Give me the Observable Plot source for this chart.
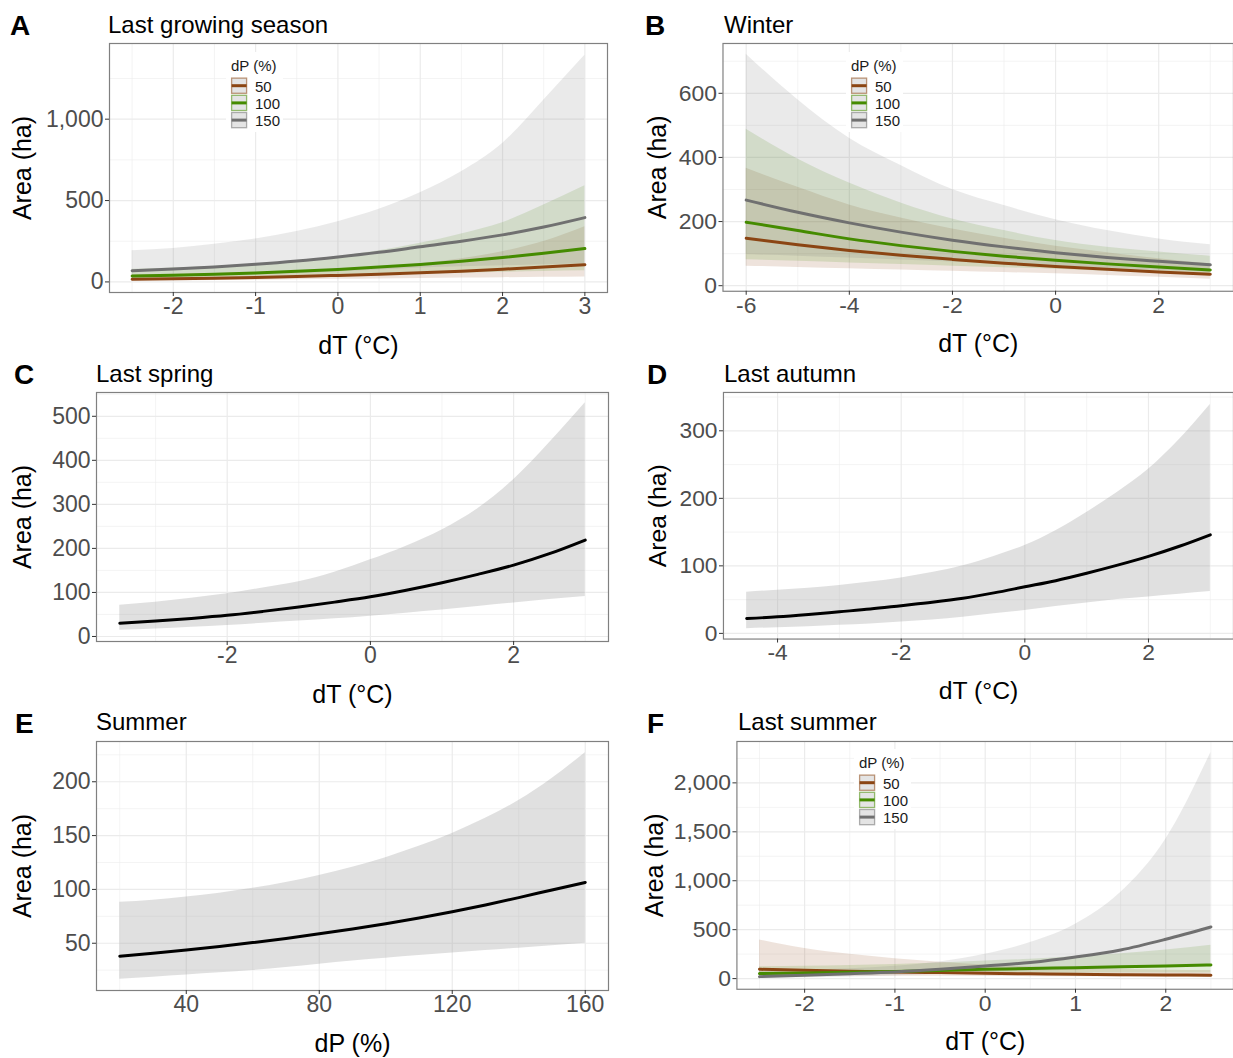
<!DOCTYPE html>
<html><head><meta charset="utf-8">
<script src="https://cdn.jsdelivr.net/npm/d3@7"></script>
<script src="https://cdn.jsdelivr.net/npm/@observablehq/plot@0.6"></script>
<style>
html,body{margin:0;padding:0;background:#fff;overflow:hidden;}
#root{position:relative;width:1233px;height:1058px;overflow:hidden;background:#fff;font-family:"Liberation Sans",Arial,Helvetica,sans-serif;}
.panel{position:absolute;}
#overlay{position:absolute;left:0;top:0;pointer-events:none;}
</style></head><body><div id="root"></div>
<script>
// ---------- legend / categories ----------
const dPLevels = ["50", "100", "150"];
const dPColors = ["#8B4513", "#458B00", "#707070"];
const legendTitle = "dP (%)";

// ---------- Panel A: Last growing season ----------
const dTA = [-2.5, -2, -1.5, -1, -0.5, 0, 0.5, 1, 1.5, 2, 2.5, 3];
const fitA50  = [16.5, 19.5, 23, 27.5, 33, 40, 47.5, 56, 66, 78, 91, 106];
const loA50   = [6, 7.5, 9, 11, 13.5, 16, 18.5, 21, 23.5, 26, 28, 30];
const hiA50   = [43, 47, 52, 58, 65, 74, 89, 112, 142, 186, 248, 339];
const fitA100 = [36, 41, 47, 55, 65, 77, 91, 107, 127, 150, 176, 205];
const loA100  = [17, 20, 23, 28, 32, 38, 43, 48, 54, 59, 64, 68];
const hiA100  = [78, 86, 97, 110, 130, 155, 192, 237, 295, 364, 472, 591];
const fitA150 = [69, 79, 92, 108, 128, 153, 182, 216, 250, 289, 337, 395];
const loA150  = [25, 30, 37, 44, 52, 63, 74, 86, 93, 99, 106, 112];
const hiA150  = [192, 206, 232, 264, 310, 370, 446, 548, 677, 851, 1117, 1393];

// ---------- Panel B: Winter ----------
const dTB = [-6, -5, -4, -3, -2, -1, 0, 1, 2, 3];
const fitB50  = [148, 128, 110, 95, 82, 70, 60, 51, 43, 36];
const loB50   = [61, 57, 53, 49, 45, 41, 37, 32, 26, 20];
const hiB50   = [366, 307, 252, 211, 177, 148, 123, 103, 84, 68];
const fitB100 = [198, 172, 146, 125, 107, 92, 79, 68, 58, 49];
const loB100  = [81, 76, 71, 66, 61, 56, 51, 45, 38, 31];
const hiB100  = [488, 395, 320, 258, 208, 172, 141, 120, 105, 92];
const fitB150 = [267, 229, 196, 167, 142, 121, 103, 88, 76, 65];
const loB150  = [97, 92, 86, 80, 74, 68, 62, 55, 48, 42];
const hiB150  = [722, 580, 460, 375, 300, 250, 206, 172, 146, 128];

// ---------- Panel C: Last spring ----------
const dTC = [-3.5, -3, -2.5, -2, -1.5, -1, -0.5, 0, 0.5, 1, 1.5, 2, 2.5, 3];
const fitC = [30, 35, 41, 48, 57, 67, 78, 90, 105, 122, 141, 162, 188, 219];
const loC  = [14, 17, 21, 25, 30, 35, 40, 46, 53, 60, 68, 76, 84, 91];
const hiC  = [71, 78, 87, 97, 110, 124, 146, 174, 205, 242, 290, 356, 440, 531];

// ---------- Panel D: Last autumn ----------
const dTD = [-4.5, -4, -3.5, -3, -2.5, -2, -1.5, -1, -0.5, 0, 0.5, 1, 1.5, 2, 2.5, 3];
const fitD = [22, 24.5, 28, 32, 36, 41, 46, 52, 60, 69, 78, 89, 101, 114, 129, 146];
const loD  = [7, 8.5, 10, 12, 14, 17, 20, 24, 29, 34, 40, 45, 50, 54, 58, 62];
const hiD  = [61, 64, 67, 71, 76, 82, 90, 100, 114, 130, 152, 179, 209, 243, 287, 339];

// ---------- Panel E: Summer ----------
const dPE = [20, 30, 40, 50, 60, 70, 80, 90, 100, 110, 120, 130, 140, 150, 160];
const fitE = [38, 40.8, 43.8, 47, 50.6, 54.5, 58.8, 63.3, 68.2, 73.5, 79.3, 85.6, 92.4, 99.5, 106.5];
const loE  = [16.5, 18.5, 20.5, 22.5, 24.7, 27.4, 30.5, 33.4, 36, 38.5, 41, 43.2, 45.4, 47.6, 50];
const hiE  = [88, 90, 93, 96.5, 101, 106.5, 113, 120.5, 129.5, 140, 152, 166, 182.5, 203, 227];

// ---------- Panel F: Last summer ----------
const dTF = [-2.5, -2, -1.5, -1, -0.5, 0, 0.5, 1, 1.5, 2, 2.5];
const fitF50  = [95, 85, 76, 68, 61, 54, 49, 44, 40, 37, 34];
const loF50   = [23, 24, 25, 25, 24, 22, 20, 18, 16, 14, 12];
const hiF50   = [395, 307, 248, 204, 168, 140, 118, 102, 92, 86, 82];
const fitF100 = [51, 58, 65, 72, 83, 95, 103, 112, 120, 129, 139];
const loF100  = [22, 28, 35, 42, 47, 50, 53, 55, 56, 57, 57];
const hiF100  = [120, 125, 135, 145, 160, 180, 197, 225, 255, 293, 340];
const fitF150 = [20, 34, 50, 68, 95, 129, 165, 221, 293, 402, 528];
const loF150  = [4, 9, 17, 30, 48, 67, 75, 88, 98, 113, 120];
const hiF150  = [75, 85, 100, 125, 170, 248, 368, 555, 879, 1424, 2311];

// ---------- tick values ----------
const ticksA = {xMajor: [-2, -1, 0, 1, 2, 3], xMinor: [-2.5, -1.5, -0.5, 0.5, 1.5, 2.5], yMajor: [0, 500, 1000], yMinor: [250, 750, 1250]};
const ticksB = {xMajor: [-6, -4, -2, 0, 2], xMinor: [-5, -3, -1, 1, 3], yMajor: [0, 200, 400, 600], yMinor: [100, 300, 500, 700]};
const ticksC = {xMajor: [-2, 0, 2], xMinor: [-3, -1, 1, 3], yMajor: [0, 100, 200, 300, 400, 500], yMinor: [50, 150, 250, 350, 450, 550]};
const ticksD = {xMajor: [-4, -2, 0, 2], xMinor: [-3, -1, 1, 3], yMajor: [0, 100, 200, 300], yMinor: [50, 150, 250, 350]};
const ticksE = {xMajor: [40, 80, 120, 160], xMinor: [20, 60, 100, 140], yMajor: [50, 100, 150, 200], yMinor: [25, 75, 125, 175, 225]};
const ticksF = {xMajor: [-2, -1, 0, 1, 2], xMinor: [-2.5, -1.5, -0.5, 0.5, 1.5, 2.5], yMajor: [0, 500, 1000, 1500, 2000], yMinor: [250, 750, 1250, 1750, 2250]};

const labelDT = "dT (°C)";
const labelDP = "dP (%)";
const labelArea = "Area (ha)";

// ---------- build ----------
const FONT = '"Liberation Sans", Arial, Helvetica, sans-serif';
const root = document.getElementById("root");
const commaFmt = d => d.toLocaleString("en-US");
const plainFmt = d => String(d);

function rowsOf(key, xs, fit, lo, hi) {
  return xs.map((x, i) => ({x, fit: fit[i], lo: lo[i], hi: hi[i], dP: key}));
}

function makePanel(spec) {
  const multi = spec.multi;
  const rows = spec.series.flat();
  const gridMinor = {stroke: "#ececec", strokeOpacity: 1, strokeWidth: 0.6};
  const gridMajor = {stroke: "#ebebeb", strokeOpacity: 1, strokeWidth: 1.2};
  const marks = [
    Plot.gridX(spec.ticks.xMinor, gridMinor),
    Plot.gridY(spec.ticks.yMinor, gridMinor),
    Plot.gridX(spec.ticks.xMajor, gridMajor),
    Plot.gridY(spec.ticks.yMajor, gridMajor),
    Plot.areaY(rows, {x: "x", y1: "lo", y2: "hi", z: "dP",
      fill: multi ? "dP" : "#999999", fillOpacity: multi ? 0.15 : 0.3, curve: "monotone-x"}),
    Plot.line(rows, {x: "x", y: "fit", z: "dP", stroke: multi ? "dP" : "#000000",
      strokeWidth: 3, curve: "monotone-x"}),
    Plot.frame({stroke: "#808080", strokeWidth: 1.2}),
    Plot.axisX(spec.ticks.xMajor, {tickSize: 4, tickPadding: 1, fontSize: 23, label: null,
      tickFormat: plainFmt, stroke: "#333333", fill: "#4d4d4d"}),
    Plot.axisY(spec.ticks.yMajor, {tickSize: 4, tickPadding: 2, fontSize: 23, label: null,
      tickFormat: spec.comma ? commaFmt : plainFmt, stroke: "#333333", fill: "#4d4d4d"}),
    Plot.text([spec.xLabel], {text: d => d, frameAnchor: "bottom", dy: 53, lineAnchor: "middle",
      textAnchor: "middle", fontSize: 25, fill: "#000"}),
    Plot.text([spec.yLabel], {text: d => d, frameAnchor: "left", dx: spec.yLabDx, rotate: -90,
      textAnchor: "middle", lineAnchor: "middle", fontSize: 25, fill: "#000"})
  ];
  const svg = Plot.plot({
    width: spec.w, height: spec.h,
    marginLeft: spec.m[0], marginRight: spec.m[1], marginTop: spec.m[2], marginBottom: spec.m[3],
    x: {domain: spec.xDomain},
    y: {domain: spec.yDomain},
    color: {domain: dPLevels, range: dPColors},
    style: {fontFamily: FONT, background: "transparent", overflow: "visible"},
    marks
  });
  const div = document.createElement("div");
  div.className = "panel";
  div.style.left = spec.left + "px";
  div.style.top = spec.top + "px";
  div.appendChild(svg);
  root.appendChild(div);
}

const panels = [
  {left: 0, top: 40, w: 616, h: 320, m: [109, 9, 3, 68], xDomain: [-2.775, 3.275], yDomain: [-65, 1465],
   ticks: ticksA, multi: true, comma: true, xLabel: labelDT, yLabel: labelArea, yLabDx: -87,
   series: [rowsOf("50", dTA, fitA50, loA50, hiA50), rowsOf("100", dTA, fitA100, loA100, hiA100), rowsOf("150", dTA, fitA150, loA150, hiA150)]},
  {left: 616, top: 40, w: 620, h: 320, m: [107, 0, 3, 68], xDomain: [-6.45, 3.45], yDomain: [-17.4, 755.4],
   ticks: ticksB, multi: true, comma: false, xLabel: labelDT, yLabel: labelArea, yLabDx: -65,
   series: [rowsOf("50", dTB, fitB50, loB50, hiB50), rowsOf("100", dTB, fitB100, loB100, hiB100), rowsOf("150", dTB, fitB150, loB150, hiB150)]},
  {left: 0, top: 388, w: 616, h: 322, m: [96, 8, 4, 69], xDomain: [-3.825, 3.325], yDomain: [-11.4, 554],
   ticks: ticksC, multi: false, comma: false, xLabel: labelDT, yLabel: labelArea, yLabDx: -74,
   series: [rowsOf("fit", dTC, fitC, loC, hiC)]},
  {left: 616, top: 388, w: 623, h: 322, m: [108, 0, 4, 69], xDomain: [-4.875, 3.375], yDomain: [-8.4, 356.8],
   ticks: ticksD, multi: false, comma: false, xLabel: labelDT, yLabel: labelArea, yLabDx: -66,
   series: [rowsOf("fit", dTD, fitD, loD, hiD)]},
  {left: 0, top: 737, w: 616, h: 321, m: [96, 8, 4, 68], xDomain: [13, 167], yDomain: [6.1, 237.4],
   ticks: ticksE, multi: false, comma: false, xLabel: labelDP, yLabel: labelArea, yLabDx: -74,
   series: [rowsOf("fit", dPE, fitE, loE, hiE)]},
  {left: 616, top: 737, w: 620, h: 321, m: [121, 0, 4, 68], xDomain: [-2.75, 2.75], yDomain: [-109, 2423],
   ticks: ticksF, multi: true, comma: true, xLabel: labelDT, yLabel: labelArea, yLabDx: -82,
   series: [rowsOf("50", dTF, fitF50, loF50, hiF50), rowsOf("100", dTF, fitF100, loF100, hiF100), rowsOf("150", dTF, fitF150, loF150, hiF150)]}
];
panels.forEach(makePanel);

// ---------- overlay: panel letters, titles, legends ----------
const letters = ["A", "B", "C", "D", "E", "F"];
const titles = ["Last growing season", "Winter", "Last spring", "Last autumn", "Summer", "Last summer"];
const letterPos = [[10, 35], [645, 35], [14, 384], [647, 384], [15, 733], [647, 733]];
const titlePos = [[108, 33], [724, 33], [96, 382], [724, 382], [96, 730], [738, 730]];
const legendPos = [[231, 65], [851, 65], [859, 762]];

const ov = d3.select(root).append("svg").attr("id", "overlay")
  .attr("width", 1233).attr("height", 1058).style("font-family", FONT);

letters.forEach((t, i) => {
  ov.append("text").attr("x", letterPos[i][0]).attr("y", letterPos[i][1])
    .attr("font-size", 28).attr("font-weight", "bold").attr("fill", "#000").text(t);
  ov.append("text").attr("x", titlePos[i][0]).attr("y", titlePos[i][1])
    .attr("font-size", 24).attr("fill", "#000").text(titles[i]);
});

legendPos.forEach(([x, y]) => {
  const g = ov.append("g");
  g.append("rect").attr("x", x - 5).attr("y", y - 13).attr("width", 57).attr("height", 80).attr("fill", "#fff");
  g.append("text").attr("x", x).attr("y", y).attr("dominant-baseline", "central")
    .attr("font-size", 15).attr("fill", "#1a1a1a").text(legendTitle);
  dPLevels.forEach((k, i) => {
    const by = y + 12.5 + i * 17.2;
    g.append("rect").attr("x", x + 0.6).attr("y", by + 0.6).attr("width", 15).attr("height", 15.2)
      .attr("fill", "#e4e4e4").attr("stroke", dPColors[i]).attr("stroke-opacity", 0.55).attr("stroke-width", 1.3);
    g.append("line").attr("x1", x + 0.6).attr("x2", x + 15.6).attr("y1", by + 8.2).attr("y2", by + 8.2)
      .attr("stroke", dPColors[i]).attr("stroke-width", 3);
    g.append("text").attr("x", x + 24).attr("y", by + 8.7).attr("dominant-baseline", "central")
      .attr("font-size", 15).attr("fill", "#1a1a1a").text(k);
  });
});
</script></body></html>
